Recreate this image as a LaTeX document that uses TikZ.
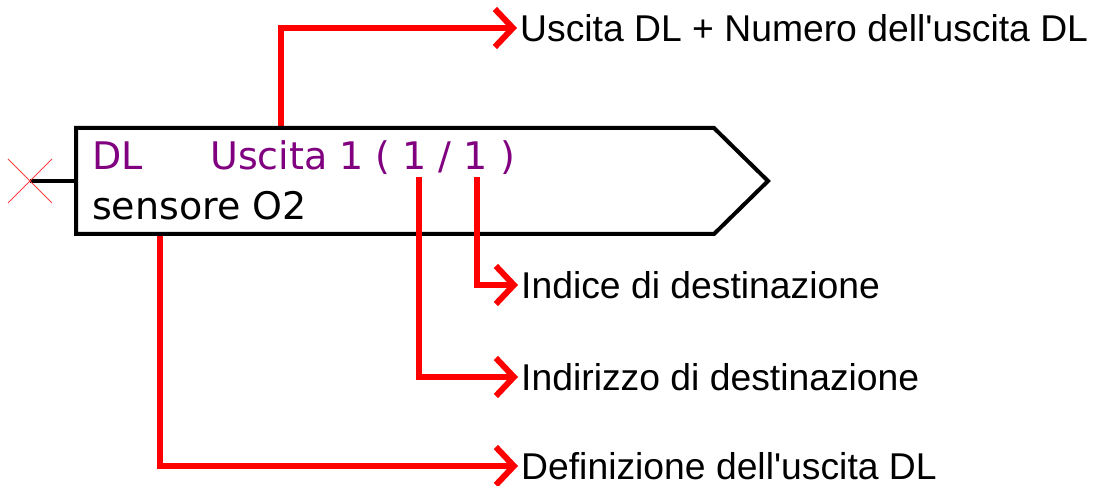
\documentclass[tikz,border=0pt]{standalone}
\usepackage{fontspec}
\setmainfont{Liberation Sans}
\newfontfamily\boxfont{DejaVu Sans}
\usetikzlibrary{arrows.meta}
\definecolor{dlpurple}{RGB}{128,0,128}
\begin{document}
\begin{tikzpicture}[x=1pt,y=-1pt,
  redline/.style={draw=red, line width=6pt, line join=miter, -{Straight Barb[length=18pt,width=38pt]}, shorten >=3pt},
  lbl/.style={anchor=west, inner sep=0pt, font=\fontsize{37.3}{40}\selectfont},
  boxtxt/.style={anchor=base west, inner sep=0pt, font=\boxfont\fontsize{38}{40}\selectfont},
  blockline/.style={draw=black, line width=4pt, line join=miter},
]
\useasboundingbox (0,0) rectangle (1096,486);
% labels
\node[lbl] (l1) at (520,28) {Uscita DL + Numero dell\textquotesingle uscita DL};
\node[lbl] (l2) at (521,285) {Indice di destinazione};
\node[lbl] (l3) at (521,377) {Indirizzo di destinazione};
\node[lbl] (l4) at (521,466) {Definizione dell\textquotesingle uscita DL};
% anchor points on the block
\coordinate (ptop) at (281,128);
\coordinate (pbot) at (160,234);
\coordinate (pidx) at (477,177);
\coordinate (padr) at (419,177);
\coordinate (inp) at (30,181);
\coordinate (bl) at (76,181);
% connectors under the block
\draw[redline] (pbot) |- (l4.west);
\draw[redline] (ptop) |- (l1.west);
% block
\draw[blockline, fill=white] (76,128) -- (714,128) -- (768,181) -- (714,234) -- (76,234) -- cycle;
\draw[line width=3.5pt] (inp) -- (bl);
\draw[red!75, line width=1pt] (8,159) -- (52,203) (8,203) -- (52,159);
\node[boxtxt, text=dlpurple] (tdl) at (92,170) {DL};
\node[boxtxt, text=dlpurple] (tout) at (210,170) {Uscita 1 ( 1 / 1 )};
\node[boxtxt] (tname) at (92,220) {sensore O2};
% connectors over the block
\draw[redline] (pidx) |- (l2.west);
\draw[redline] (padr) |- (l3.west);
\end{tikzpicture}
\end{document}
